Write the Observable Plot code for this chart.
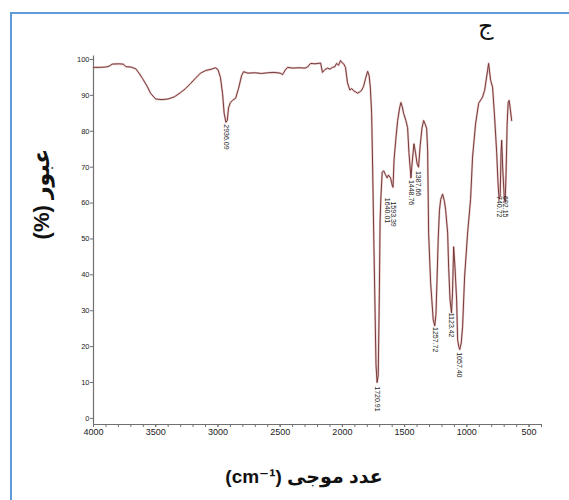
<!DOCTYPE html>
<html>
<head>
<meta charset="utf-8">
<script src="https://cdn.jsdelivr.net/npm/d3@7"></script>
<script src="https://cdn.jsdelivr.net/npm/@observablehq/plot@0.6"></script>
<style>
  body { margin: 0; background: #fff; }
  #wrap { position: relative; width: 569px; height: 500px; overflow: hidden; background: #fff; }
  #frame { position: absolute; left: 10px; top: 12px; width: 600px; height: 600px;
           border-left: 2px solid #5f9bd8; border-top: 2px solid #5f9bd8; }
  #chart { position: absolute; left: 0; top: 0; }
  .lab { position: absolute; font-family: "Liberation Sans", "DejaVu Sans", sans-serif; font-weight: bold; color: #111; white-space: nowrap; }
  #corner { position: absolute; left: 478px; top: 12px; font-family: "DejaVu Sans", sans-serif; font-size: 24px; color: #111; }
  #chart svg text { font-family: "Liberation Sans", Arial, sans-serif; }
</style>
</head>
<body>
<div id="wrap">
  <div id="frame"></div>
  <div id="chart"></div>
  <div id="corner">ج</div>
  <div class="lab" id="ylab" dir="rtl" style="font-size:22px; left:42px; top:194px; transform: translate(-50%,-50%) rotate(-90deg);">عبور (%)</div>
  <div class="lab" id="xlab" dir="rtl" style="font-size:19px; left:304px; top:476px; transform: translate(-50%,-50%);">عدد موجی (cm⁻¹)</div>
</div>
<script>
// wavenumber (cm-1) and transmittance (%)
const wavenumber = [4000,3950,3900,3870,3850,3800,3760,3740,3700,3660,3630,3606,3570,3540,3500,3450,3400,3350,3300,3260,3220,3180,3140,3100,3043,3020,3000,2980,2963,2950,2936,2925,2915,2900,2883,2858,2834,2810,2794,2760,2700,2650,2600,2550,2500,2481,2460,2441,2400,2350,2300,2280,2256,2220,2175,2160,2140,2119,2100,2080,2060,2047,2031,2015,2000,1990,1975,1959,1940,1925,1910,1895,1878,1860,1846,1830,1814,1797,1785,1775,1765,1757,1750,1740,1730,1721,1712,1703,1697,1690,1680,1669,1655,1640,1630,1613,1600,1593,1585,1570,1556,1540,1530,1520,1508,1490,1476,1465,1449,1440,1425,1412,1400,1388,1375,1360,1347,1335,1323,1315,1307,1291,1270,1258,1248,1240,1230,1220,1210,1195,1180,1170,1154,1146,1135,1123,1115,1106,1095,1082,1074,1065,1057,1045,1034,1018,994,970,954,930,905,874,857,833,825,809,793,777,760,750,741,732,725,720,712,700,692,685,676,668,660,650,640];
const transmittance = [97.8,97.8,97.9,98.2,98.7,98.8,98.7,98.0,97.9,97.4,96.0,94.7,92.6,90.5,89.0,88.8,89.0,89.6,90.8,91.9,93.3,94.8,96.2,96.9,97.4,97.7,97.2,95.0,90.5,85.0,82.5,83.0,86.5,88.0,88.6,89.2,92.0,95.5,96.6,96.2,96.3,96.1,96.3,96.4,96.2,95.8,97.0,97.8,97.6,97.7,97.6,97.9,98.9,98.8,99.0,96.4,97.2,97.6,97.3,97.8,98.0,98.9,98.4,99.7,99.0,98.8,97.8,93.5,91.5,91.9,91.3,91.0,90.6,91.0,91.4,92.5,94.7,96.7,95.5,92.0,85.0,70.0,55.0,35.0,15.0,10.0,12.0,35.0,55.0,62.0,68.6,69.0,68.0,67.0,67.8,67.0,65.0,64.4,72.0,78.0,83.0,86.5,88.0,87.0,85.0,83.0,81.0,74.0,67.0,71.0,76.5,74.0,71.0,70.0,76.0,81.0,83.0,82.0,80.8,74.7,51.6,37.8,27.5,25.8,29.0,38.0,50.0,58.0,61.0,62.5,60.5,58.0,51.6,42.0,33.0,29.4,35.0,47.8,42.0,33.0,22.0,20.0,19.2,21.0,25.6,39.4,51.6,61.0,72.8,82.0,87.8,89.5,91.4,97.0,98.9,94.2,92.3,84.0,74.0,66.0,61.0,62.0,74.0,77.5,70.0,62.0,60.3,68.0,82.0,88.0,88.6,86.0,83.0];

// peak annotations: position (cm-1), label anchor transmittance, text
const peakWn = [2936.09,1720.91,1640.01,1593.39,1448.76,1387.66,1257.72,1123.42,1057.40,740.72,692.15];
const peakT = [82.5,9.5,62,61,67,69.5,26,30,19,62.5,62.5];
const peakText = ["2936.09","1720.91","1640.01","1593.39","1448.76","1387.66","1257.72","1123.42","1057.40","740.72","692.15"];

const xMajor = [4000,3500,3000,2500,2000,1500,1000,500];
const xMinor = d3.range(4000, 399, -100);
const yTicks = [0,10,20,30,40,50,60,70,80,90,100];
const xDomain = [4000, 400];
const yDomain = [-1.7, 101];

const spectrum = wavenumber.map((w, i) => ({w, t: transmittance[i]}));
const peaks = peakWn.map((w, i) => ({w, t: peakT[i], label: peakText[i]}));

const axisColor = "#707070";
const chart = Plot.plot({
  width: 569,
  height: 444,
  marginLeft: 93,
  marginRight: 28,
  marginTop: 55.4,
  marginBottom: 20,
  style: {fontFamily: "Liberation Sans, Arial, sans-serif", background: "transparent", color: "#222"},
  x: {domain: xDomain, label: null},
  y: {domain: yDomain, label: null},
  marks: [
    Plot.ruleX([xDomain[0]], {stroke: axisColor, strokeWidth: 1.2}),
    Plot.ruleY([yDomain[0]], {stroke: axisColor, strokeWidth: 1.2}),
    Plot.axisX({ticks: xMinor, tickSize: 3, tickFormat: () => "", stroke: axisColor, label: null}),
    Plot.axisX({ticks: xMajor, tickSize: 3, tickPadding: 1, stroke: axisColor, fontSize: 9, fill: "#222", tickFormat: d => String(d), label: null}),
    Plot.axisY({ticks: yTicks, tickSize: 3, tickPadding: 1, stroke: axisColor, fontSize: 7.5, fill: "#222", tickFormat: d => String(d), label: null}),
    Plot.line(spectrum, {x: "w", y: "t", stroke: "#d49a9a", strokeWidth: 2.2, strokeOpacity: 0.55, curve: "linear"}),
    Plot.line(spectrum, {x: "w", y: "t", stroke: "#6b2a2a", strokeWidth: 0.9, curve: "linear"}),
    Plot.text(peaks, {x: "w", y: "t", text: "label", rotate: 90, textAnchor: "start", dy: 2, fontSize: 7, fontFamily: "Liberation Sans, Arial, sans-serif", fill: "#222"})
  ]
});
document.getElementById("chart").appendChild(chart);
</script>
</body>
</html>
